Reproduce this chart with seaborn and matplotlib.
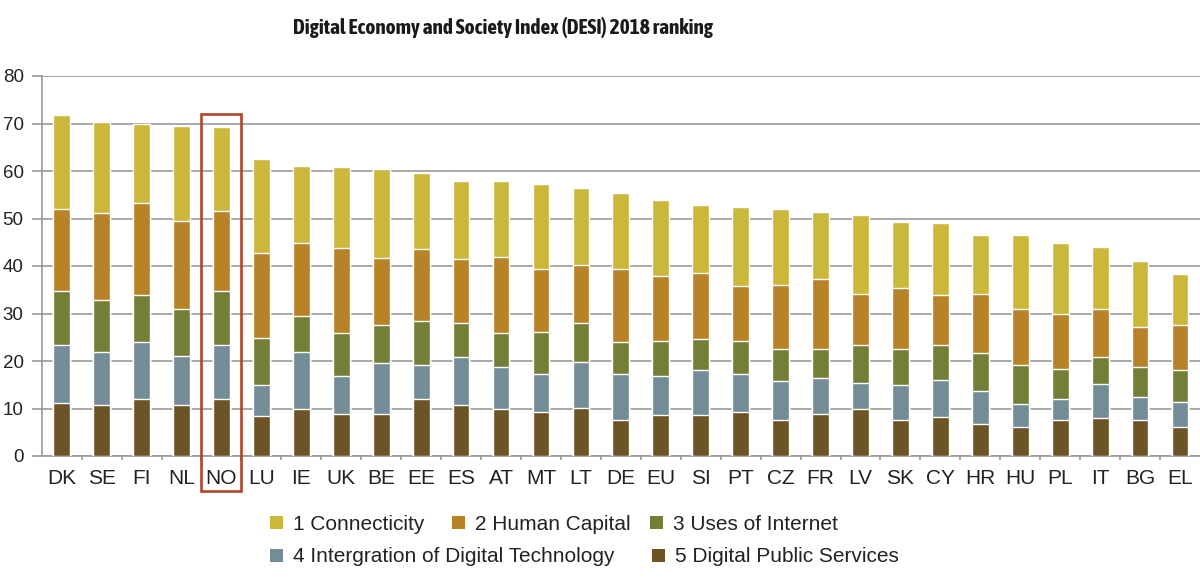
import matplotlib
matplotlib.use("Agg")
import numpy as np
import pandas as pd
import matplotlib.pyplot as plt
import seaborn as sns
from matplotlib import font_manager
from matplotlib.patches import Patch, Rectangle

sns.set_theme(style="white")
plt.rcParams['font.family'] = ['Liberation Sans', 'DejaVu Sans']

# DESI 2018 values
countries = ['DK', 'SE', 'FI', 'NL', 'NO', 'LU', 'IE', 'UK', 'BE', 'EE', 'ES', 'AT', 'MT', 'LT', 'DE',
             'EU', 'SI', 'PT', 'CZ', 'FR', 'LV', 'SK', 'CY', 'HR', 'HU', 'PL', 'IT', 'BG', 'EL']
connectivity = [19.8, 19.1, 16.5, 20.0, 17.7, 19.9, 16.3, 17.0, 18.7, 16.1, 16.4, 16.0, 18.0, 16.2, 16.1,
                15.8, 14.3, 16.7, 16.0, 14.1, 16.5, 13.9, 15.1, 12.3, 15.6, 14.9, 13.1, 13.8, 10.8]
human_capital = [17.2, 18.3, 19.5, 18.6, 16.9, 17.9, 15.3, 17.8, 14.1, 15.1, 13.4, 15.8, 13.2, 12.2, 15.3,
                 13.8, 13.9, 11.5, 13.5, 14.6, 10.9, 12.8, 10.7, 12.5, 11.7, 11.7, 10.0, 8.5, 9.5]
uses_internet = [11.3, 11.1, 9.8, 9.8, 11.3, 9.9, 7.7, 9.2, 8.0, 9.2, 7.2, 7.2, 8.8, 8.3, 6.7,
                 7.4, 6.4, 6.9, 6.9, 6.2, 8.0, 7.7, 7.4, 8.0, 8.2, 6.4, 5.7, 6.3, 6.8]
integration = [12.2, 11.0, 12.1, 10.3, 11.5, 6.4, 12.0, 7.9, 10.7, 7.3, 10.1, 8.8, 8.0, 9.6, 9.7,
               8.1, 9.5, 8.0, 8.1, 7.5, 5.5, 7.3, 7.6, 6.9, 4.9, 4.3, 7.1, 4.8, 5.2]
public_services = [11.2, 10.8, 11.9, 10.8, 11.9, 8.5, 9.8, 8.9, 8.9, 11.9, 10.8, 10.0, 9.3, 10.2, 7.6,
                   8.7, 8.7, 9.3, 7.6, 8.9, 9.8, 7.6, 8.3, 6.8, 6.1, 7.6, 8.1, 7.6, 6.1]

series_names = ['1 Connecticity', '2 Human Capital', '3 Uses of Internet',
                '4 Intergration of Digital Technology', '5 Digital Public Services']
colors = ['#CBB83A', '#B88226', '#747E37', '#738C97', '#6C5425']
highlight = 'NO'

df = pd.DataFrame({
    'country': countries,
    series_names[4]: public_services,
    series_names[3]: integration,
    series_names[2]: uses_internet,
    series_names[1]: human_capital,
    series_names[0]: connectivity,
})

# cumulative heights, bottom segment first
stack_order = series_names[::-1]
cum = df[stack_order].cumsum(axis=1)

fig = plt.figure(figsize=(12, 5.87), dpi=100)
ax = fig.add_axes([41.7 / 1200, 1 - 456 / 587, 1158.3 / 1200, 380 / 587])

# draw the tallest cumulative bar first so the lower segments sit on top
for name in series_names:
    sns.barplot(x=df['country'], y=cum[name], color=colors[series_names.index(name)],
                width=0.42, saturation=1, ax=ax, zorder=3)

ax.set_ylim(0, 80)
ax.set_xlim(-0.5, len(countries) - 0.5)
ax.set_yticks(np.arange(0, 81, 10))
ax.yaxis.grid(True, color='#999999', linewidth=1.2, zorder=0)
ax.set_axisbelow(True)
ax.set_xlabel('')
ax.set_ylabel('')

for s in ['top', 'right']:
    ax.spines[s].set_visible(False)
for s in ['left', 'bottom']:
    ax.spines[s].set_color('#999999')
    ax.spines[s].set_linewidth(1.2)

ax.tick_params(axis='y', direction='out', length=7, width=1.2, color='#999999',
               pad=6, labelsize=13.5, labelcolor='#222222', left=True)
ax.tick_params(axis='x', length=0, pad=9, labelsize=15, labelcolor='#222222')
ax.set_xticks(np.arange(len(countries) - 1) + 0.5, minor=True)
ax.tick_params(axis='x', which='minor', direction='out', length=3, width=1.2,
               color='#999999', bottom=True)

# red frame around Norway
i = countries.index(highlight)
ax.add_patch(Rectangle((i - 0.5, -7.4), 1.0, 79.4, fill=False, edgecolor='#B0452A',
                       linewidth=1.9, clip_on=False, zorder=5))

# title uses a bold narrow face if one is installed
narrow_bold = sorted({f.name for f in font_manager.fontManager.ttflist
                      if ('Narrow' in f.name or 'Condensed' in f.name)
                      and f.weight in (600, 700, 800, 'bold', 'semibold')})
if narrow_bold:
    title_family, title_size = [narrow_bold[0], 'Liberation Sans'], 15.3
else:
    title_family, title_size = ['Liberation Sans', 'DejaVu Sans'], 12
fig.text(503 / 1200, 1 - 28 / 587, 'Digital Economy and Society Index (DESI) 2018 ranking',
         ha='center', va='center', fontsize=title_size, fontweight='bold',
         family=title_family, color='#1a1a1a')

# legend entries sit on two uneven rows, so each one is placed on its own
legend_pos = [(270, 524), (452, 524), (650, 524), (270, 557), (652, 557)]
for name, c, (px, py) in zip(series_names, colors, legend_pos):
    leg = fig.legend([Patch(facecolor=c, edgecolor='none')], [name], loc='center left',
                     bbox_to_anchor=(px / 1200, 1 - py / 587), frameon=False, fontsize=15,
                     handlelength=0.6, handleheight=0.6, handletextpad=0.5,
                     borderpad=0, borderaxespad=0, labelcolor='#222222')

fig.savefig('out.png', dpi=100)
